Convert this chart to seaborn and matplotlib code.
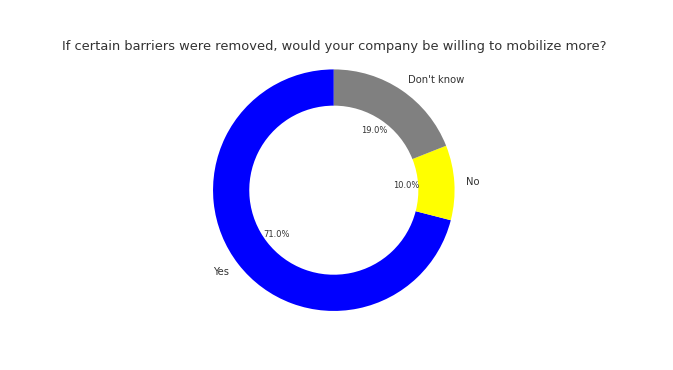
import matplotlib
matplotlib.use("Agg")
import matplotlib.pyplot as plt
import seaborn as sns

# survey answers
answers = ["Yes", "No", "Don't know"]
shares = [71.0, 10.0, 19.0]
colors = ["#0000ff", "#ffff00", "#808080"]

title = "If certain barriers were removed, would your company be willing to mobilize more?"

sns.set_theme(style="white")
plt.rcParams['font.family'] = ['DejaVu Sans']

fig = plt.figure(figsize=(6.73, 3.7), dpi=100)
ax = fig.add_axes([0.046, 0.078, 0.9, 0.816])

wedges, texts, autotexts = ax.pie(
    shares,
    labels=answers,
    colors=colors,
    startangle=90,
    autopct='%1.1f%%',
    wedgeprops=dict(width=0.3, edgecolor='none'),
    textprops=dict(color='#333333', fontsize=7.2),
)
for t in autotexts:
    t.set_fontsize(6.0)
ax.set_aspect('equal')

fig.text(0.496, 0.873, title, ha='center', va='center', fontsize=9.36, color='#333333')

fig.savefig("out.png", dpi=100)
